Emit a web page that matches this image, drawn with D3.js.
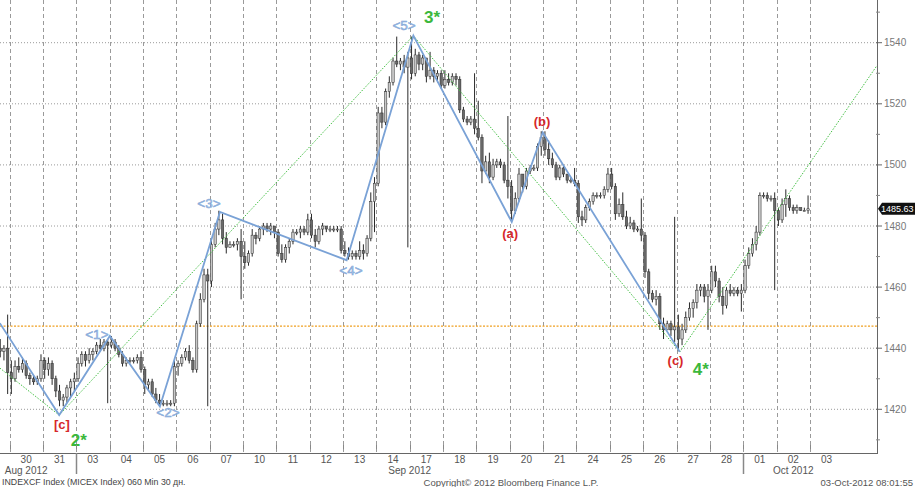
<!DOCTYPE html>
<html><head><meta charset="utf-8">
<script src="https://cdn.jsdelivr.net/npm/d3@7"></script>
<style>html,body{margin:0;padding:0;background:#fff;} svg{display:block;font-family:"Liberation Sans",Arial,sans-serif;}</style>
</head><body><svg id="c" width="915" height="487"></svg>
<script>
// ---------- data ----------
const dayLabels = ["30","31","03","04","05","06","07","10","11","12","13","14","17","18","19","20","21","24","25","26","27","28","01","02","03"];
const monthLabels = ["Aug 2012","Sep 2012","Oct 2012"];
const monthAt = [0.5, 12, 23.5];       // in day units
const monthBreaks = [2, 22];           // day boundaries where month changes
const yTicks = [1420,1440,1460,1480,1500,1520,1540];
const yMinorTicks = [1410,1430,1450,1470,1490,1510,1530,1550];
const barsPerDay = 9;
const firstSlot = 6;                   // first bar = 7th hourly bar of Aug 29
// hourly candles [open, high, low, close]
const ohlc = [
 // Aug 29 (tail)
 [1440,1443,1437,1439],[1439,1441,1436,1440],[1440,1451,1425,1432],
 // Aug 30
 [1432,1436,1425,1430],[1430,1436,1429,1434],[1434,1437,1432,1433],[1433,1437,1432,1435],[1435,1436,1430,1431],[1431,1432,1428,1430],[1430,1431,1428,1429],[1429,1431,1428,1430],[1430,1438,1429,1436],
 // Aug 31
 [1436,1437,1430,1433],[1433,1437,1431,1435],[1435,1436,1428,1430],[1430,1431,1424,1426],[1426,1428,1421,1423],[1423,1425,1421,1424],[1424,1428,1422,1427],[1427,1430,1424,1429],[1429,1432,1426,1430],
 // Sep 03
 [1430,1437,1429,1435],[1435,1439,1434,1438],[1438,1439,1434,1436],[1436,1440,1435,1438],[1438,1440,1436,1439],[1439,1442,1438,1441],[1441,1443,1439,1440],[1440,1443,1439,1442],[1442,1443,1422,1441],
 // Sep 04
 [1441,1444,1440,1442],[1442,1443,1439,1440],[1440,1441,1437,1438],[1438,1439,1434,1435],[1435,1437,1434,1436],[1436,1437,1435,1436],[1436,1437,1435,1436],[1436,1438,1435,1437],[1437,1439,1432,1433],
 // Sep 05
 [1433,1434,1425,1428],[1428,1430,1426,1429],[1429,1430,1424,1425],[1425,1427,1422,1423],[1423,1425,1421,1422],[1422,1423,1421,1422],[1422,1423,1421,1422],[1422,1423,1421,1422],[1422,1436,1421,1434],
 // Sep 06
 [1434,1436,1431,1435],[1435,1438,1434,1437],[1437,1440,1436,1439],[1439,1441,1435,1436],[1436,1437,1432,1433],[1433,1449,1432,1448],[1448,1458,1447,1456],[1456,1466,1455,1464],[1464,1466,1421,1462],
 // Sep 07
 [1462,1476,1460,1474],[1474,1481,1473,1479],[1479,1485,1477,1482],[1482,1484,1474,1476],[1476,1478,1471,1473],[1473,1475,1473,1474],[1474,1475,1473,1474],[1474,1476,1472,1475],[1475,1479,1456,1470],
 // Sep 10
 [1470,1475,1466,1468],[1468,1472,1467,1471],[1471,1479,1470,1477],[1477,1478,1474,1476],[1476,1480,1475,1479],[1479,1481,1477,1480],[1480,1481,1478,1479],[1479,1481,1477,1480],[1480,1480,1476,1478],
 // Sep 11
 [1478,1479,1470,1471],[1471,1474,1468,1469],[1469,1474,1468,1473],[1473,1476,1471,1475],[1475,1479,1474,1478],[1478,1479,1477,1478],[1478,1480,1476,1479],[1479,1480,1477,1478],[1478,1484,1477,1482],
 // Sep 12
 [1482,1484,1476,1477],[1477,1479,1473,1475],[1475,1480,1474,1479],[1479,1481,1477,1480],[1480,1480,1478,1479],[1479,1480,1478,1479],[1479,1480,1478,1479],[1479,1480,1478,1479],[1479,1480,1471,1472],
 // Sep 13
 [1472,1475,1470,1471],[1471,1473,1469,1470],[1470,1472,1469,1471],[1471,1472,1469,1470],[1470,1475,1469,1472],[1472,1474,1469,1471],[1471,1477,1470,1476],[1476,1491,1475,1488],[1488,1496,1478,1494],
 // Sep 14
 [1494,1519,1493,1517],[1517,1519,1512,1514],[1514,1525,1513,1524],[1524,1529,1522,1527],[1527,1535,1526,1534],[1534,1542,1532,1533],[1533,1535,1531,1534],[1534,1536,1530,1532],[1532,1537,1473,1535],
 // Sep 17
 [1535,1542,1528,1530],[1530,1538,1529,1536],[1536,1537,1531,1533],[1533,1536,1531,1535],[1535,1535,1527,1529],[1529,1537,1528,1531],[1531,1532,1527,1529],[1529,1531,1527,1530],[1530,1531,1525,1526],
 // Sep 18
 [1526,1531,1525,1528],[1528,1530,1526,1527],[1527,1530,1526,1529],[1529,1530,1526,1528],[1528,1529,1517,1518],[1518,1519,1514,1515],[1515,1516,1513,1514],[1514,1516,1513,1515],[1515,1530,1510,1512],
 // Sep 19
 [1512,1521,1508,1509],[1509,1510,1494,1498],[1498,1503,1497,1501],[1501,1504,1494,1496],[1496,1502,1495,1500],[1500,1502,1499,1501],[1501,1502,1499,1500],[1500,1501,1494,1495],[1495,1516,1489,1493],
 // Sep 20
 [1493,1495,1482,1485],[1485,1491,1484,1489],[1489,1499,1488,1497],[1497,1497,1491,1493],[1493,1499,1492,1498],[1498,1500,1497,1499],[1499,1500,1498,1499],[1499,1507,1498,1506],[1506,1511,1503,1509],
 // Sep 21
 [1509,1511,1503,1505],[1505,1508,1500,1502],[1502,1504,1499,1500],[1500,1501,1495,1496],[1496,1500,1495,1499],[1499,1500,1496,1497],[1497,1497,1494,1495],[1495,1496,1494,1495],[1495,1499,1493,1494],
 // Sep 24
 [1494,1495,1481,1483],[1483,1485,1480,1482],[1482,1487,1481,1486],[1486,1489,1485,1488],[1488,1491,1487,1490],[1490,1491,1489,1490],[1490,1491,1489,1490],[1490,1493,1489,1492],[1492,1499,1491,1497],
 // Sep 25
 [1497,1499,1492,1493],[1493,1494,1482,1484],[1484,1489,1483,1487],[1487,1491,1482,1483],[1483,1485,1479,1480],[1480,1483,1479,1481],[1481,1482,1478,1479],[1479,1480,1478,1479],[1479,1489,1475,1477],
 // Sep 26
 [1477,1478,1463,1465],[1465,1466,1456,1458],[1458,1459,1455,1456],[1456,1459,1454,1457],[1457,1458,1446,1448],[1448,1450,1443,1446],[1446,1449,1446,1448],[1448,1449,1444,1446],[1446,1483,1442,1447],
 // Sep 27
 [1447,1451,1439,1443],[1443,1448,1441,1446],[1446,1452,1445,1450],[1450,1455,1449,1453],[1453,1456,1450,1455],[1455,1461,1453,1459],[1459,1461,1457,1460],[1460,1461,1455,1457],[1457,1461,1446,1459],
 // Sep 28
 [1459,1467,1458,1465],[1465,1467,1460,1462],[1462,1463,1455,1457],[1457,1460,1451,1454],[1454,1460,1453,1459],[1459,1461,1457,1458],[1458,1460,1457,1459],[1459,1460,1457,1458],[1458,1461,1452,1459],
 // Oct 01
 [1459,1469,1458,1467],[1467,1473,1466,1471],[1471,1476,1470,1474],[1474,1480,1472,1478],[1478,1491,1477,1490],[1490,1491,1489,1490],[1490,1491,1488,1489],[1489,1490,1488,1489],[1489,1491,1459,1485],
 // Oct 02
 [1485,1486,1480,1482],[1482,1489,1481,1487],[1487,1492,1483,1489],[1489,1490,1485,1486],[1486,1487,1484,1485],[1485,1487,1484,1486],[1486,1486,1485,1485],[1485,1486,1485,1485],[1485,1490,1484,1485.63]
];
const lastPrice = 1485.63;
const supportLevel = 1447.2;
// wave count (day units, price)
const waveBlue = [[-0.29,1448.2],[1.49,1418.1],[3.01,1444.0],[4.51,1420.9],[6.31,1484.6],[10.11,1468.8],[12.11,1542.3],[15.06,1481.3],[15.99,1510.7],[20.10,1438.8]];
const waveGreen = [[-0.29,1433.5],[1.49,1418.1],[12.11,1542.3],[20.10,1438.8],[26.01,1532.5]];
const blueLabels = [["<1>",2.62,1444.6],["<2>",4.75,1418.8],["<3>",5.98,1487.3],["<4>",10.24,1465.5],["<5>",11.83,1545.5]];
const redLabels = [["[c]",1.57,1414.9],["(a)",15.01,1477.6],["(b)",15.97,1514.2],["(c)",19.97,1436.0]];
const greenLabels = [["2*",2.08,1409.8],["3*",12.67,1548.3],["4*",20.73,1432.9]];

// ---------- scales ----------
const svg = d3.select("#c");
const x = d3.scaleLinear().domain([0, 25]).range([9.5, 843.25]);
const y = d3.scaleLinear().domain([1420, 1540]).range([409.3, 42.7]);
const plotR = 877, plotB = 453;

// grid
const g = svg.append("g");
g.selectAll("line.h").data(yTicks).join("line")
  .attr("x1",0).attr("x2",plotR).attr("y1",d=>y(d)).attr("y2",d=>y(d))
  .attr("stroke","#9a9a9a").attr("stroke-width",1).attr("stroke-dasharray","1,2");
const bounds = d3.range(0, 25);
g.selectAll("line.v").data(bounds).join("line")
  .attr("x1",d=>Math.round(x(d))+0.5).attr("x2",d=>Math.round(x(d))+0.5).attr("y1",0).attr("y2",plotB)
  .attr("stroke","#9a9a9a").attr("stroke-width",1).attr("stroke-dasharray","4,3");

// support line
g.append("line").attr("x1",0).attr("x2",plotR).attr("y1",y(supportLevel)).attr("y2",y(supportLevel))
  .attr("stroke","#f0a020").attr("stroke-width",1.3).attr("stroke-dasharray","2,1.5");

// candles
const tOf = i => (i + firstSlot + 0.5) / barsPerDay - 1;
const cg = svg.append("g");
cg.selectAll("line.w").data(ohlc).join("line")
  .attr("x1",(d,i)=>x(tOf(i))).attr("x2",(d,i)=>x(tOf(i)))
  .attr("y1",d=>y(d[1])).attr("y2",d=>y(d[2]))
  .attr("stroke","#2a2a2a").attr("stroke-width",1);
cg.selectAll("rect").data(ohlc).join("rect")
  .attr("x",(d,i)=>x(tOf(i))-1.2).attr("width",2.4)
  .attr("y",d=>y(Math.max(d[0],d[3])))
  .attr("height",d=>Math.max(1, Math.abs(y(d[0])-y(d[3]))))
  .attr("fill",d=>d[3]>=d[0]?"#c8c8c8":"#6a6a6a")
  .attr("stroke","#2a2a2a").attr("stroke-width",0.5);

// wave lines
const line = d3.line().x(d=>x(d[0])).y(d=>y(d[1]));
svg.append("path").datum(waveGreen).attr("d",line).attr("fill","none")
  .attr("stroke","#44c044").attr("stroke-width",1).attr("stroke-dasharray","1.5,1.5");
svg.append("path").datum(waveBlue).attr("d",line).attr("fill","none")
  .attr("stroke","#7aa2d6").attr("stroke-width",1.8);

// labels
svg.append("g").selectAll("text").data(blueLabels).join("text")
  .attr("x",d=>x(d[1])).attr("y",d=>y(d[2])).attr("text-anchor","middle").attr("dominant-baseline","central")
  .attr("font-size",13.5).attr("fill","#a9c4e6").attr("stroke","#7aa2d6").attr("stroke-width",0.5).text(d=>d[0]);
svg.append("g").selectAll("text").data(redLabels).join("text")
  .attr("x",d=>x(d[1])).attr("y",d=>y(d[2])).attr("text-anchor","middle").attr("dominant-baseline","central")
  .attr("font-size",13).attr("font-weight","bold").attr("fill","#d6282a").text(d=>d[0]);
svg.append("g").selectAll("text").data(greenLabels).join("text")
  .attr("x",d=>x(d[1])).attr("y",d=>y(d[2])).attr("text-anchor","middle").attr("dominant-baseline","central")
  .attr("font-size",17).attr("font-weight","bold").attr("fill","#3cb83c").text(d=>d[0]);

// axes frame
svg.append("line").attr("x1",0).attr("x2",plotR).attr("y1",plotB+0.5).attr("y2",plotB+0.5).attr("stroke","#666");
svg.append("line").attr("x1",plotR+0.5).attr("x2",plotR+0.5).attr("y1",0).attr("y2",plotB+1).attr("stroke","#666");
svg.selectAll("line.bt").data(bounds).join("line")
  .attr("x1",d=>Math.round(x(d))+0.5).attr("x2",d=>Math.round(x(d))+0.5).attr("y1",plotB-8).attr("y2",plotB-4)
  .attr("stroke","#888");
svg.selectAll("line.mb").data(monthBreaks).join("line")
  .attr("x1",d=>Math.round(x(d))+0.5).attr("x2",d=>Math.round(x(d))+0.5).attr("y1",plotB).attr("y2",plotB+21)
  .attr("stroke","#888").attr("stroke-width",1.5);

// y axis ticks/labels
svg.selectAll("line.yt").data(yTicks).join("line")
  .attr("x1",plotR-1).attr("x2",plotR+5).attr("y1",d=>y(d)).attr("y2",d=>y(d)).attr("stroke","#666");
svg.selectAll("line.ym").data(yMinorTicks).join("line")
  .attr("x1",plotR-1).attr("x2",plotR+3).attr("y1",d=>y(d)).attr("y2",d=>y(d)).attr("stroke","#888");
svg.selectAll("text.yl").data(yTicks).join("text")
  .attr("x",plotR+7).attr("y",d=>y(d)).attr("dominant-baseline","central")
  .attr("font-size",10).attr("fill","#777").text(d=>d);

// last price tag
const py = y(lastPrice);
svg.append("path").attr("d",`M${plotR+1},${py} L${plotR+5},${py-6} L915,${py-6} L915,${py+6} L${plotR+5},${py+6} Z`).attr("fill","#111");
svg.append("text").attr("x",913.5).attr("y",py).attr("text-anchor","end").attr("dominant-baseline","central")
  .attr("font-size",9).attr("fill","#fff").text(lastPrice.toFixed(2));

// x labels
svg.selectAll("text.dl").data(dayLabels).join("text")
  .attr("x",(d,i)=>x(i+0.5)).attr("y",459).attr("text-anchor","middle").attr("dominant-baseline","central")
  .attr("font-size",10).attr("fill","#555").text(d=>d);
svg.selectAll("text.ml").data(monthLabels).join("text")
  .attr("x",(d,i)=>x(monthAt[i])).attr("y",470).attr("text-anchor","middle").attr("dominant-baseline","central")
  .attr("font-size",10).attr("fill","#555").text(d=>d);

// footer
svg.append("text").attr("x",2).attr("y",482).attr("dominant-baseline","central").attr("font-size",8.8).attr("fill","#444")
  .text("INDEXCF Index (MICEX Index) 060 Min 30 дн.");
svg.append("text").attr("x",511).attr("y",482).attr("text-anchor","middle").attr("dominant-baseline","central").attr("font-size",9.5).attr("fill","#555")
  .text("Copyright© 2012 Bloomberg Finance L.P.");
svg.append("text").attr("x",913).attr("y",482).attr("text-anchor","end").attr("dominant-baseline","central").attr("font-size",9.5).attr("fill","#555")
  .text("03-Oct-2012 08:01:55");
</script></body></html>
